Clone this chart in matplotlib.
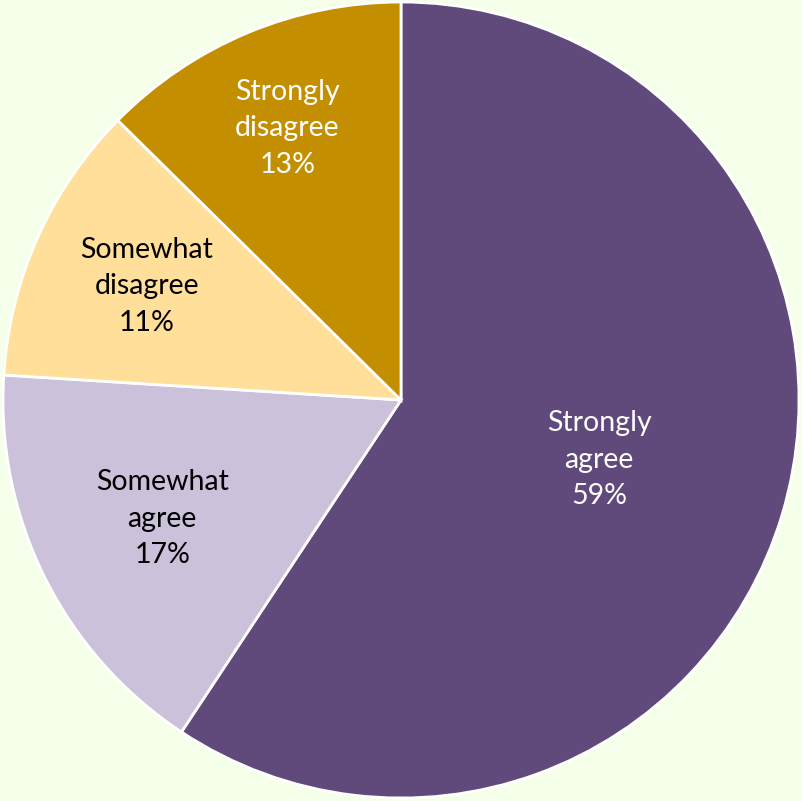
import numpy as np
import matplotlib
matplotlib.use("Agg")
import matplotlib.pyplot as plt

# данные
labels = ["Strongly\nagree", "Somewhat\nagree", "Somewhat\ndisagree", "Strongly\ndisagree"]
values = [59.3, 16.7, 11.4, 12.6]
colors = ["#604A7B", "#CCC1DA", "#FFDF99", "#C38F00"]
text_colors = ["white", "black", "black", "white"]
label_dist = [0.52, 0.67, 0.70, 0.74]

plt.rcParams["font.family"] = ["Lato", "DejaVu Sans"]

fig = plt.figure(figsize=(8.02, 8.01), dpi=100, facecolor="#F5FFE9")
ax = fig.add_axes([0, 0, 1, 1])
ax.set_facecolor("#F5FFE9")

wedges, _ = ax.pie(values, colors=colors, startangle=90, counterclock=False,
                   radius=1.0, wedgeprops=dict(edgecolor="white", linewidth=2))

for w, lab, v, tc, d in zip(wedges, labels, values, text_colors, label_dist):
    ang = np.deg2rad((w.theta1 + w.theta2) / 2)
    ax.text(d * np.cos(ang), d * np.sin(ang), f"{lab}\n{v:.0f}%", ha="center", va="center",
            color=tc, fontsize=20.5, linespacing=1.5)

r = 398
ax.set_xlim(-401 / r, 401 / r)
ax.set_ylim(-401 / r, 400 / r)
ax.set_aspect("auto")
ax.axis("off")

fig.savefig("out.png", dpi=100, facecolor=fig.get_facecolor())
